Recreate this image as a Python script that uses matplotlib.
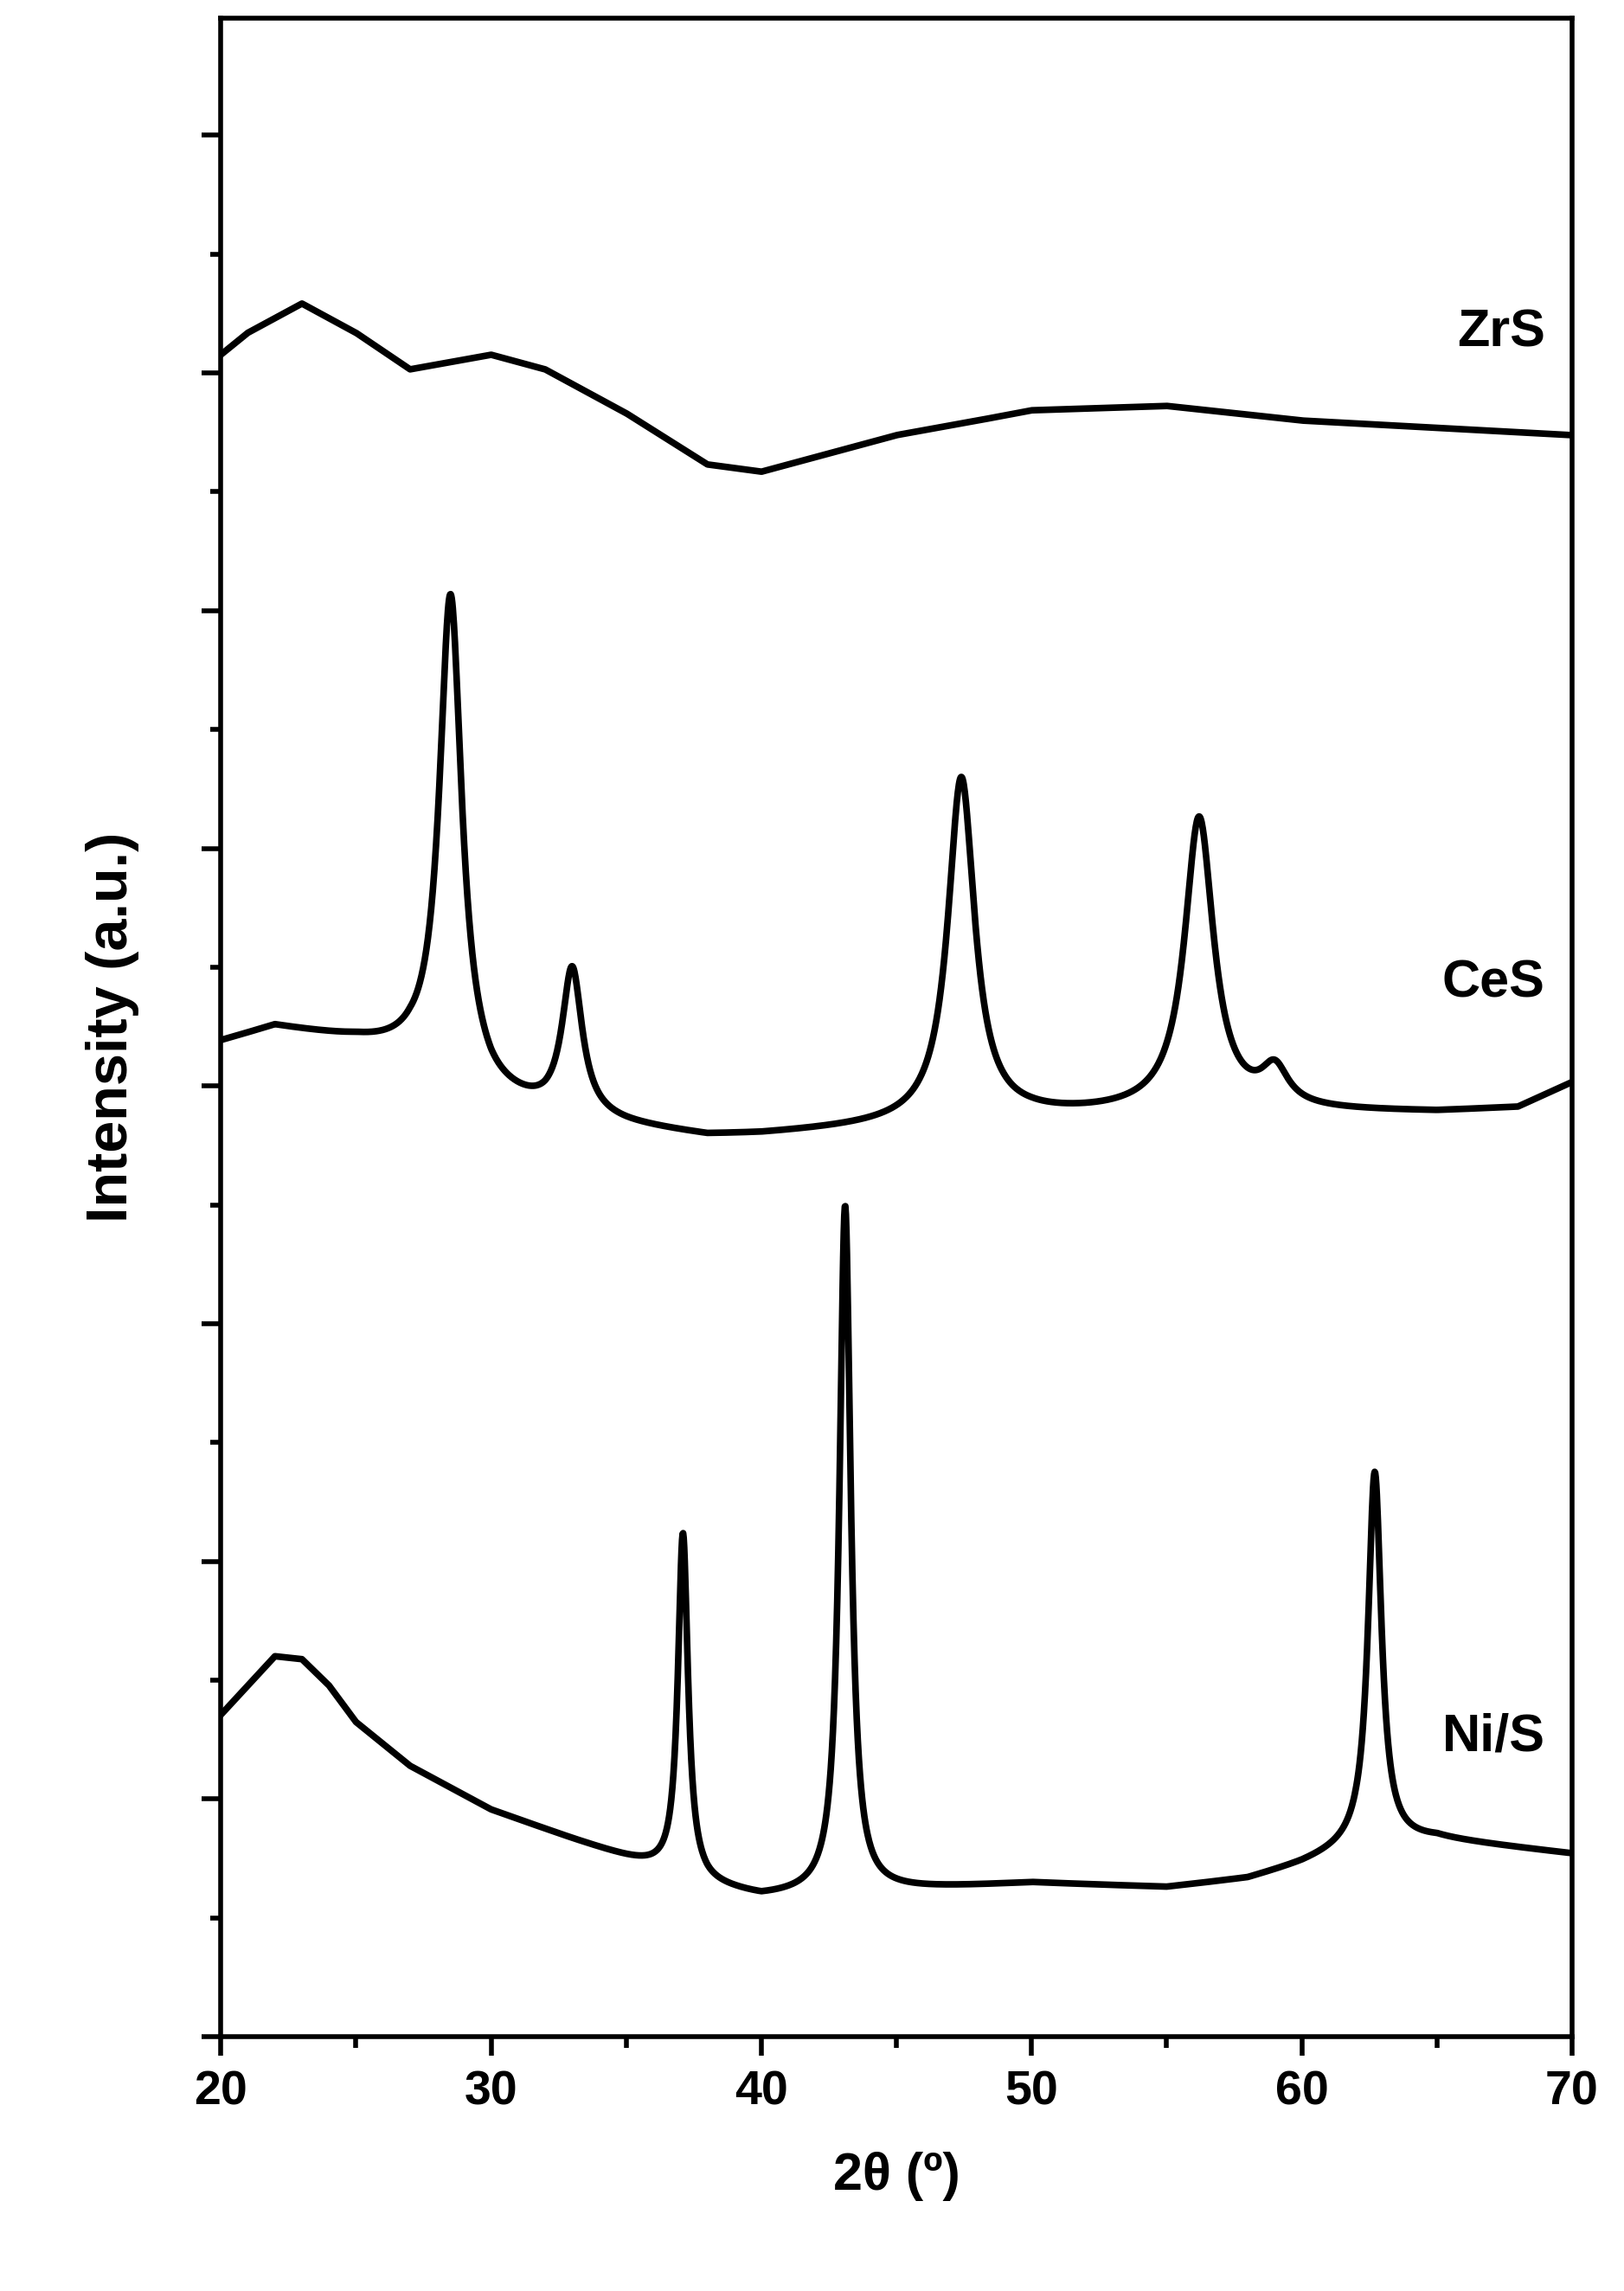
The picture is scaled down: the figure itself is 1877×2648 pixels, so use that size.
import numpy as np
import matplotlib
matplotlib.use("Agg")
import matplotlib.pyplot as plt

plt.rcParams['font.family'] = ['Liberation Sans', 'DejaVu Sans']

# baselines: (2theta, intensity) (arbitrary units, offset stacked)
zrs_base_x = [20, 21, 23, 25, 27, 30, 32, 35, 38, 40, 43, 45, 48, 50, 55, 60, 65, 70]
zrs_base_y = [1150, 1165, 1185, 1165, 1140, 1150, 1140, 1110, 1075, 1070, 1085, 1095, 1105, 1112, 1115, 1105, 1100, 1095]
ces_base_x = [20, 22, 25, 27, 30, 32, 35, 38, 40, 45, 50, 55, 60, 65, 68, 70]
ces_base_y = [680, 690, 680, 670, 640, 630, 622, 615, 616, 622, 628, 632, 632, 632, 635, 652]
ces_peak_pos = [28.5, 33.0, 47.4, 56.2, 59.0]
ces_peak_h = [330, 100, 235, 200, 25]
ces_peak_w = [1.0, 0.9, 1.2, 1.3, 1.2]
nis_base_x = [20, 21, 22, 23, 24, 25, 27, 30, 33, 35, 38, 40, 45, 50, 55, 58, 60, 62, 65, 70]
nis_base_y = [220, 240, 260, 258, 240, 215, 185, 155, 135, 122, 103, 95, 100, 105, 102, 108, 118, 130, 135, 125]
nis_peak_pos = [37.1, 43.1, 62.7]
nis_peak_h = [235, 470, 255]
nis_peak_w = [0.45, 0.5, 0.6]
labels = ['ZrS', 'CeS', 'Ni/S']
label_y = [1165, 720, 205]

x = np.linspace(20, 70, 2500)

def lor(x, p, h, w):
    return h / (1 + ((x - p) / (w / 2)) ** 2)

zrs = np.interp(x, zrs_base_x, zrs_base_y)
ces = np.interp(x, ces_base_x, ces_base_y)
for p, h, w in zip(ces_peak_pos, ces_peak_h, ces_peak_w):
    ces = ces + lor(x, p, h, w)
nis = np.interp(x, nis_base_x, nis_base_y)
for p, h, w in zip(nis_peak_pos, nis_peak_h, nis_peak_w):
    nis = nis + lor(x, p, h, w)

fig = plt.figure(figsize=(18.77, 26.48), dpi=100)
ax = fig.add_axes([0.136, 0.111, 0.832, 0.881])
for y in (zrs, ces, nis):
    ax.plot(x, y, color='black', lw=5.5)
for lab, ly in zip(labels, label_y):
    ax.text(69.0, ly, lab, ha='right', va='center', fontsize=44, fontweight='bold')

ax.set_xlim(20, 70)
ax.set_ylim(0, 1380)
ax.set_xticks([20, 30, 40, 50, 60, 70])
ax.set_xticks(np.arange(25, 70, 10), minor=True)
ax.set_yticks(np.arange(0, 1380, 162.5))
ax.set_yticks(np.arange(81.25, 1380, 162.5), minor=True)
ax.set_yticklabels([])
ax.tick_params(which='major', length=16, width=4, labelsize=40, pad=12)
ax.tick_params(which='minor', length=9, width=4)
for lbl in ax.get_xticklabels():
    lbl.set_fontweight('bold')
for s in ax.spines.values():
    s.set_linewidth(4)
ax.set_xlabel('2θ (º)', fontsize=44, fontweight='bold', labelpad=30)
ax.set_ylabel('Intensity (a.u.)', fontsize=48, fontweight='bold', labelpad=40)
fig.savefig('out.png', dpi=100)
